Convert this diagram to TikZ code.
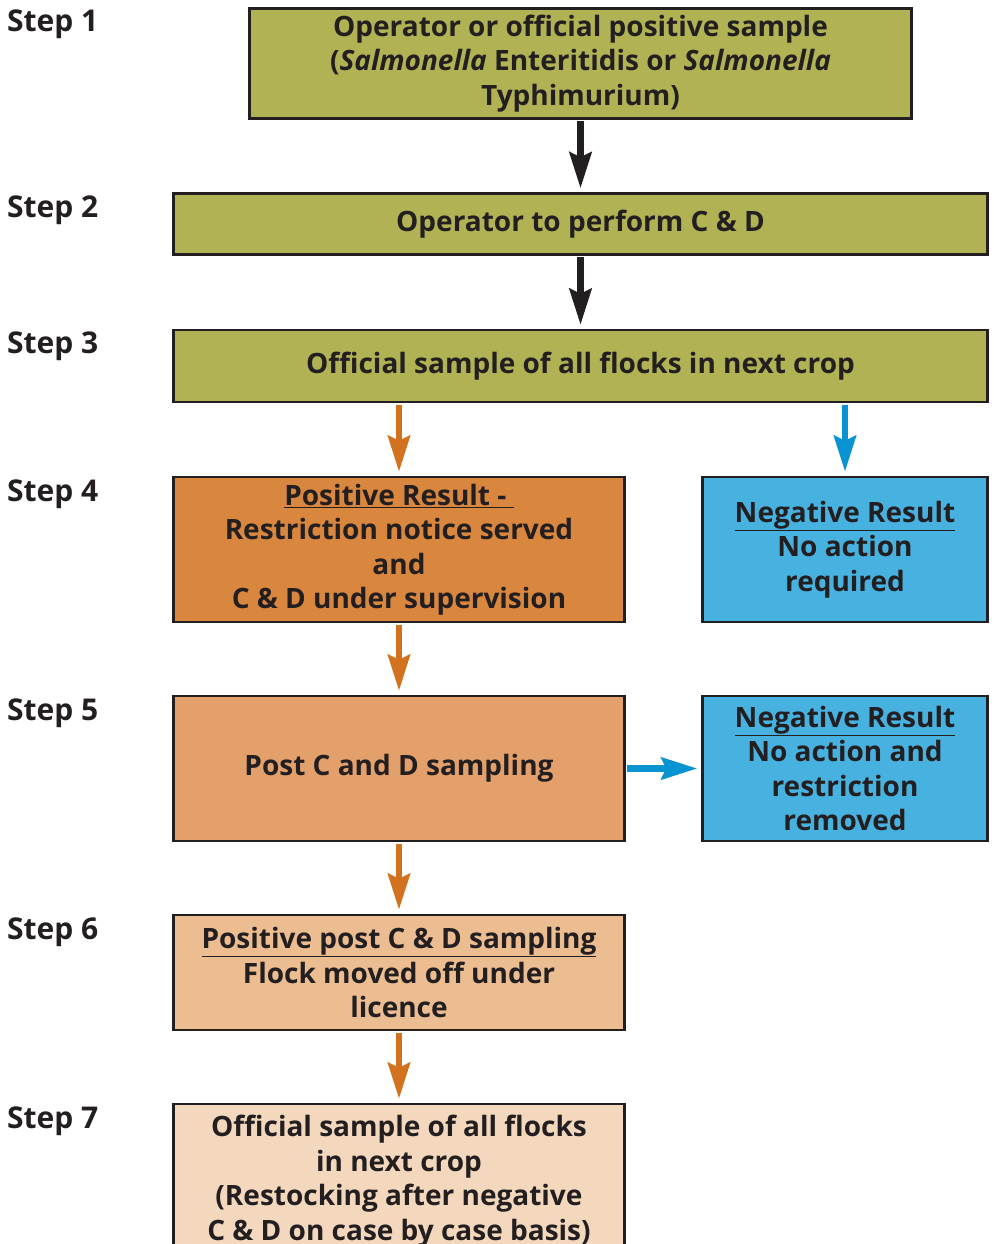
\documentclass[tikz,border=0pt]{standalone}
\usepackage{fontspec}
\setmainfont{Open Sans}
\definecolor{olivebox}{RGB}{177,178,84}
\definecolor{posdark}{RGB}{217,134,62}
\definecolor{posmid}{RGB}{227,160,106}
\definecolor{poslight}{RGB}{237,189,146}
\definecolor{pospale}{RGB}{243,216,190}
\definecolor{negblue}{RGB}{71,177,224}
\definecolor{inkdark}{RGB}{35,31,32}
\definecolor{arroworange}{RGB}{210,113,30}
\definecolor{arrowblue}{RGB}{10,147,209}
\usetikzlibrary{arrows.meta}

\begin{document}
\begin{tikzpicture}[x=1pt, y=-1pt,
    stepbox/.style={draw=inkdark, line width=2.5pt, align=center, inner sep=0pt, text=inkdark, font=\fontsize{28}{34.5}\selectfont\bfseries},
    steplabel/.style={anchor=base west, inner sep=0pt, text=inkdark, font=\fontsize{30}{34}\selectfont\bfseries},
    flow/.style={line width=6.5pt, -{Stealth[length=36pt, width=22pt, inset=5pt]}, shorten >=4pt, shorten <=1.5pt}]
        \useasboundingbox (0, 0) rectangle (993, 1244);

        % Step labels
        \node[steplabel] (s1) at (7, 32) {Step 1};
        \node[steplabel] (s2) at (7, 217) {Step 2};
        \node[steplabel] (s3) at (7, 353) {Step 3};
        \node[steplabel] (s4) at (7, 501) {Step 4};
        \node[steplabel] (s5) at (7, 720) {Step 5};
        \node[steplabel] (s6) at (7, 939) {Step 6};
        \node[steplabel] (s7) at (7, 1128) {Step 7};

        % Boxes
        \node[stepbox, fill=olivebox, minimum width=662pt, minimum height=110pt] (sample) at (580.5, 63.5) {Operator or official positive sample\\(\textit{Salmonella} Enteritidis or \textit{Salmonella}\\Typhimurium)};
        \node[stepbox, fill=olivebox, minimum width=814pt, minimum height=61pt] (cleaning) at (580.5, 224) {Operator to perform C \& D};
        \node[stepbox, fill=olivebox, minimum width=814pt, minimum height=72pt] (official) at (580.5, 366) {Official sample of all flocks in next crop};

        \node[stepbox, fill=posdark, minimum width=451pt, minimum height=145pt] (positive) at (399, 549.5) {\underline{Positive Result - }\\Restriction notice served\\and\\C \& D under supervision};
        \node[stepbox, fill=negblue, minimum width=285pt, minimum height=145pt] (negative) at (845, 549.5) {\underline{Negative Result}\\No action\\required};

        \node[stepbox, fill=posmid, minimum width=451pt, minimum height=145pt] (postcd) at (399, 768.5) {Post C and D sampling};
        \node[stepbox, fill=negblue, minimum width=285pt, minimum height=145pt] (removed) at (845, 768.5) {\underline{Negative Result}\\No action and\\restriction\\removed};

        \node[stepbox, fill=poslight, minimum width=451pt, minimum height=115pt] (licence) at (399, 972.5) {\underline{Positive post C \& D sampling}\\Flock moved off under\\licence};
        \node[stepbox, fill=pospale, minimum width=451pt, minimum height=154pt] (restock) at (399, 1181) {Official sample of all flocks\\in next crop\\(Restocking after negative\\C \& D on case by case basis)};

        % Arrows
        \draw[flow, inkdark] (sample.south) -- (cleaning.north);
        \draw[flow, inkdark] (cleaning.south) -- (official.north);
        \draw[flow, arroworange] (positive.north |- official.south) -- (positive.north);
        \draw[flow, arrowblue] (negative.north |- official.south) -- (negative.north);
        \draw[flow, arroworange] (positive.south) -- (postcd.north);
        \draw[flow, arrowblue] (postcd.east) -- (removed.west);
        \draw[flow, arroworange] (postcd.south) -- (licence.north);
        \draw[flow, arroworange] (licence.south) -- (restock.north);
    \end{tikzpicture}
\end{document}
